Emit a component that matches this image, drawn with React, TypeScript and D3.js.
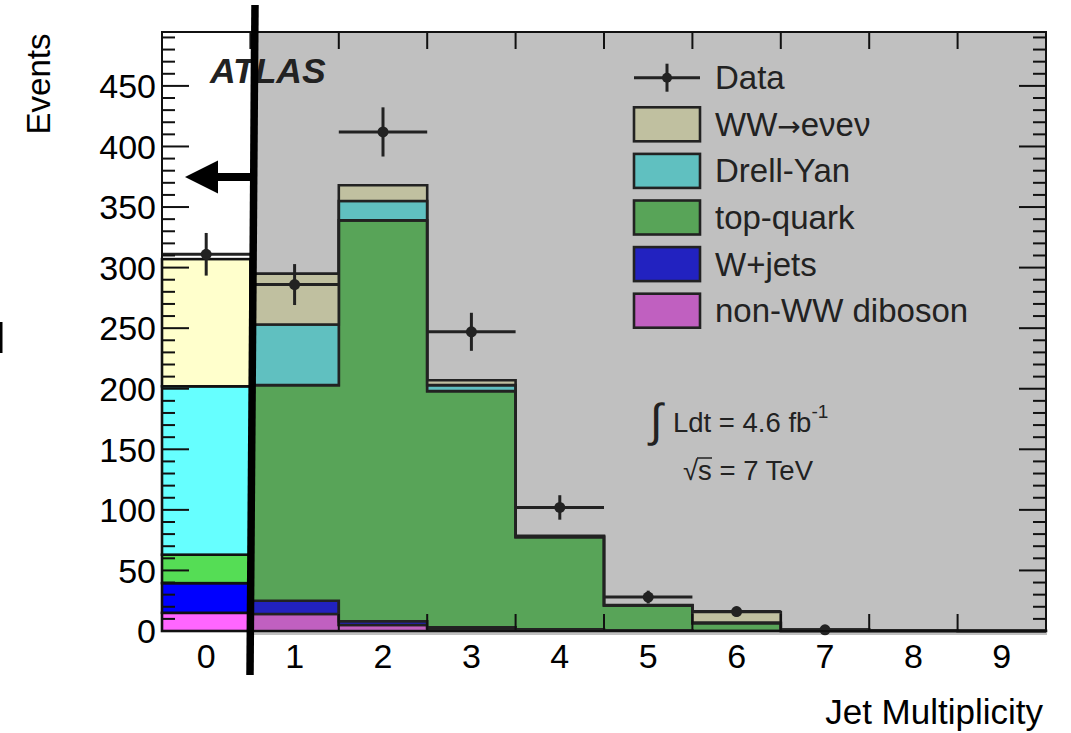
import React from "react";
import * as d3 from "d3";

// Jet multiplicity bins
const bins = [0, 1, 2, 3, 4, 5, 6, 7, 8, 9];

// Expected events per process, per jet bin
const nonWWDiboson = [15, 14, 5, 2, 1, 0.3, 0.2, 0, 0, 0];
const wJets = [24.5, 11, 3, 1, 0.5, 0.2, 0, 0, 0, 0];
const topQuark = [23.5, 178, 331, 195, 76, 20.5, 6.2, 0.8, 0.3, 0.1];
const drellYan = [139, 50, 16, 5, 0.5, 0.2, 0.5, 0, 0, 0];
const wwEnuEnu = [105, 42, 13, 4, 0.5, 0.3, 8.8, 0.2, 0, 0];

// Observed data with statistical uncertainty
const dataCounts = [311, 286, 412, 247, 102, 28, 16, 1, 0, 0];
const dataErrors = [17.6, 16.9, 20.3, 15.7, 10.1, 5.3, 4.0, 1.0, 0, 0];

const yTickLabels = [0, 50, 100, 150, 200, 250, 300, 350, 400, 450];

const layerNames = ["diboson", "wjets", "top", "dy", "ww"];
const layerValues = [nonWWDiboson, wJets, topQuark, drellYan, wwEnuEnu];
// colours for the 0-jet bin and for the other bins
const colorsZeroJet = ["#ff66ff", "#0000ff", "#55dd55", "#66ffff", "#ffffcc"];
const colorsOther = ["#c060c0", "#2222c0", "#58a458", "#60c0c0", "#c0c0a0"];

const legendItems = [
  { label: ["WW", "\u2192", "e\u03bde\u03bd"], color: colorsOther[4] },
  { label: ["Drell-Yan"], color: colorsOther[3] },
  { label: ["top-quark"], color: colorsOther[2] },
  { label: ["W+jets"], color: colorsOther[1] },
  { label: ["non-WW diboson"], color: colorsOther[0] },
];

const W = 1071;
const H = 733;
const left = 162;
const right = 1046;
const top = 32;
const bottom = 631;
const font = "'Liberation Sans', Arial, Helvetica, sans-serif";
const ink = "#222";

export default function App() {
  const x = d3.scaleLinear().domain([-0.5, 9.5]).range([left, right]);
  const y = d3.scaleLinear().domain([0, 494.5]).range([bottom, top]);

  const rows = bins.map((b, i) => {
    const r: Record<string, number> = { bin: b };
    layerNames.forEach((n, k) => (r[n] = layerValues[k][i]));
    return r;
  });
  const series = d3.stack<Record<string, number>>().keys(layerNames)(rows);

  // step areas for bins 1..9
  const area = d3
    .area<{ xe: number; y0: number; y1: number }>()
    .x((d) => x(d.xe))
    .y0((d) => y(d.y0))
    .y1((d) => y(d.y1))
    .curve(d3.curveStepAfter);

  const stepPaths = series.map((s, k) => {
    const pts = s
      .filter((d) => d.data.bin >= 1)
      .map((d) => ({ xe: d.data.bin - 0.5, y0: d[0], y1: d[1] }));
    const last = pts[pts.length - 1];
    pts.push({ xe: 9.5, y0: last.y0, y1: last.y1 });
    return { d: area(pts) || "", color: colorsOther[k] };
  });

  const zeroRects = series.map((s, k) => {
    const d = s[0];
    return {
      x: x(-0.5),
      w: x(0.5) - x(-0.5),
      y: y(d[1]),
      h: y(d[0]) - y(d[1]),
      color: colorsZeroJet[k],
    };
  });

  const minorY = d3.range(0, 495, 10);
  const edgeTicks = d3.range(0.5, 9.5, 1);

  const legendX = 634;
  const legendRow0 = 77.7;
  const legendStep = 46.6;

  return (
    <svg
      width={W}
      height={H}
      style={{ position: "absolute", left: 0, top: 0, background: "#fff" }}
      fontFamily={font}
    >
      {/* shaded region for >= 1 jet */}
      <rect x={x(0.5)} y={top} width={right - x(0.5) + 1} height={bottom - top + 4} fill="#c0c0c0" />

      {stepPaths.map((p, k) => (
        <path key={k} d={p.d} fill={p.color} stroke={ink} strokeWidth={2.6} strokeLinejoin="miter" />
      ))}

      {zeroRects.map((r, k) => (
        <rect key={k} x={r.x} y={r.y} width={r.w} height={r.h} fill={r.color} stroke="#111" strokeWidth={2.6} />
      ))}

      {/* data */}
      {bins.map((b, i) =>
        dataCounts[i] > 0 ? (
          <g key={b} stroke={ink} strokeWidth={3}>
            <line x1={x(b - 0.5)} x2={x(b + 0.5)} y1={y(dataCounts[i])} y2={y(dataCounts[i])} />
            <line x1={x(b)} x2={x(b)} y1={y(dataCounts[i] - dataErrors[i])} y2={y(dataCounts[i] + dataErrors[i])} />
            <circle cx={x(b)} cy={y(dataCounts[i])} r={5.5} fill={ink} stroke="none" />
          </g>
        ) : null
      )}

      {/* frame and ticks */}
      <rect x={left} y={top} width={right - left} height={bottom - top} fill="none" stroke="#111" strokeWidth={2} />
      {minorY.map((v) => {
        const major = v % 50 === 0;
        const len = major ? 27 : 13;
        return (
          <g key={v} stroke="#111" strokeWidth={2}>
            <line x1={left} x2={left + len} y1={y(v)} y2={y(v)} />
            <line x1={right} x2={right - len} y1={y(v)} y2={y(v)} />
          </g>
        );
      })}
      {edgeTicks.map((v) => (
        <g key={v} stroke="#111" strokeWidth={2}>
          <line x1={x(v)} x2={x(v)} y1={bottom} y2={bottom - 17} />
          <line x1={x(v)} x2={x(v)} y1={top} y2={top + 17} />
        </g>
      ))}

      {yTickLabels.map((v) => (
        <text key={v} x={156} y={y(v)} dy="0.36em" textAnchor="end" fontSize={34} fill="#000">
          {v}
        </text>
      ))}
      {bins.map((b) => (
        <text key={b} x={x(b)} y={668} textAnchor="middle" fontSize={34} fill="#000">
          {b}
        </text>
      ))}

      <text transform="translate(50,84) rotate(-90)" textAnchor="middle" fontSize={33} fill="#000">
        Events
      </text>
      <text x={1043} y={724} textAnchor="end" fontSize={35} fill="#000">
        Jet Multiplicity
      </text>

      <text x={210} y={83} fontSize={35.5} fontWeight="bold" fontStyle="italic" fill={ink}>
        ATLAS
      </text>

      {/* legend */}
      <g stroke={ink} strokeWidth={3}>
        <line x1={legendX} x2={legendX + 66} y1={legendRow0} y2={legendRow0} />
        <line x1={legendX + 33} x2={legendX + 33} y1={legendRow0 - 14} y2={legendRow0 + 14} />
        <circle cx={legendX + 33} cy={legendRow0} r={5} fill={ink} stroke="none" />
      </g>
      <text x={715} y={legendRow0 + 11.5} fontSize={33} fill={ink}>
        Data
      </text>
      {legendItems.map((it, i) => {
        const cy = legendRow0 + legendStep * (i + 1);
        return (
          <g key={it.label.join("")}>
            <rect x={legendX} y={cy - 17} width={66} height={34} fill={it.color} stroke={ink} strokeWidth={2.6} />
            <text x={715} y={cy + 11.5} fontSize={33} fill={ink}>
              {it.label.map((part, j) =>
                part === "\u2192" ? (
                  <tspan key={j} fontFamily="'DejaVu Sans', sans-serif" fontSize={28}>
                    {part}
                  </tspan>
                ) : (
                  <tspan key={j}>{part}</tspan>
                )
              )}
            </text>
          </g>
        );
      })}

      {/* luminosity and energy */}
      <text x={650} y={436} fontSize={46} fill={ink} fontWeight="300">
        {"\u222b"}
      </text>
      <text x={673} y={432} fontSize={27.5} fill={ink}>
        Ldt = 4.6 fb
        <tspan dy={-14} fontSize={19}>
          -1
        </tspan>
      </text>
      <text x={683} y={480} fontSize={27.5} fill={ink}>
        {"\u221a"}
        <tspan>s = 7 TeV</tspan>
      </text>
      <line x1={697} x2={712} y1={458} y2={458} stroke={ink} strokeWidth={1.5} />

      {/* selection cut marker */}
      <line x1={255} y1={5} x2={250} y2={675} stroke="#000" strokeWidth={7.5} />
      <line x1={251} x2={214} y1={177} y2={177} stroke="#000" strokeWidth={8} />
      <path d="M185,177 L218,160.5 L218,193.5 Z" fill="#000" />

      <line x1={1} x2={1} y1={322} y2={353} stroke="#000" strokeWidth={3} />
    </svg>
  );
}
